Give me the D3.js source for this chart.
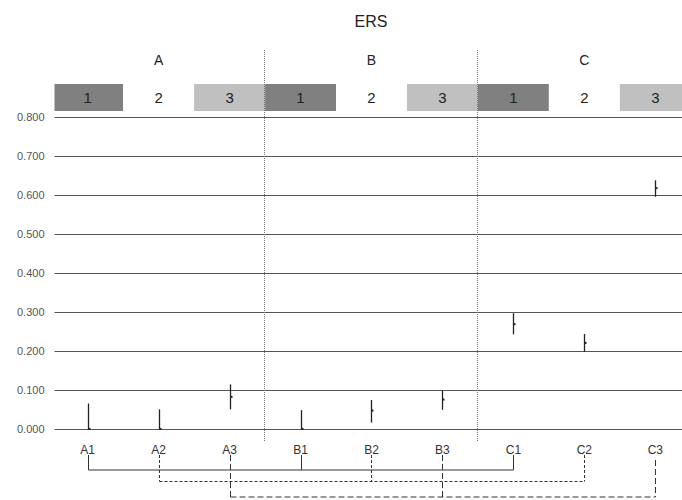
<!DOCTYPE html>
<html>
<head>
<meta charset="utf-8">
<script src="https://cdn.jsdelivr.net/npm/d3@7"></script>
<style>
  html, body { margin: 0; padding: 0; background: #fff; }
  svg { display: block; font-family: "Liberation Sans", Arial, sans-serif; }
</style>
</head>
<body>
<svg id="chart" width="682" height="500"></svg>
<script>
// ERS by group (A, B, C) and level (1, 2, 3): mean with error range
const groups = ["A", "B", "C"];
const levels = ["1", "2", "3"];
const categories = ["A1", "A2", "A3", "B1", "B2", "B3", "C1", "C2", "C3"];
const means = [0.001, 0.001, 0.083, 0.001, 0.048, 0.076, 0.269, 0.221, 0.617];
const lows  = [0.000, 0.000, 0.051, 0.000, 0.017, 0.050, 0.243, 0.198, 0.595];
const highs = [0.066, 0.051, 0.115, 0.049, 0.075, 0.099, 0.297, 0.244, 0.637];
const yTicks = [0, 0.1, 0.2, 0.3, 0.4, 0.5, 0.6, 0.7, 0.8];
const levelFills = ["#808080", "#ffffff", "#c0c0c0"];
// comparison brackets: same level across groups
const brackets = [
  { members: ["A1", "B1", "C1"], dash: null },
  { members: ["A2", "B2", "C2"], dash: "3,2" },
  { members: ["A3", "B3", "C3"], dash: "6,3" }
];

const svg = d3.select("#chart");
const plotLeft = 54.5, plotRight = 682;
const x = d3.scaleBand().domain(categories).range([52.2, 690.8]).padding(0);
const y = d3.scaleLinear().domain([0, 0.8]).range([429.3, 116.6]);
const cx = c => x(c) + x.bandwidth() / 2;

// title
svg.append("text").attr("x", 371).attr("y", 27).attr("text-anchor", "middle")
  .attr("font-size", 16).attr("fill", "#222").text("ERS");

// group labels
groups.forEach((g, i) => {
  svg.append("text")
    .attr("x", cx(categories[i * 3 + 1]))
    .attr("y", 65).attr("text-anchor", "middle")
    .attr("font-size", 14).attr("fill", "#222").text(g);
});

// level header boxes
categories.forEach((c, i) => {
  const li = i % 3;
  const x0 = Math.max(x(c), plotLeft);
  svg.append("rect")
    .attr("x", x0).attr("y", 84)
    .attr("width", x(c) + x.bandwidth() - x0).attr("height", 27)
    .attr("fill", levelFills[li]);
  svg.append("text")
    .attr("x", cx(c)).attr("y", 103)
    .attr("text-anchor", "middle").attr("font-size", 15)
    .attr("fill", "#222").text(levels[li]);
});

// horizontal gridlines and y-axis labels
const yAxis = d3.axisLeft(y).tickValues(yTicks).tickFormat(d3.format(".3f")).tickSize(0).tickPadding(10);
const yg = svg.append("g").attr("transform", `translate(${plotLeft},0)`).call(yAxis);
yg.select(".domain").remove();
yg.selectAll("text").attr("font-size", 11).attr("fill", "#555")
  .attr("font-family", "Liberation Sans, Arial, sans-serif");
svg.append("g").selectAll("line").data(yTicks).join("line")
  .attr("x1", plotLeft).attr("x2", plotRight)
  .attr("y1", d => Math.round(y(d)) + 0.5).attr("y2", d => Math.round(y(d)) + 0.5)
  .attr("stroke", "#555").attr("stroke-width", 1);

// group separators
[3, 6].forEach(i => {
  const sx = Math.round(x(categories[i])) - 0.5;
  svg.append("line")
    .attr("x1", sx).attr("x2", sx).attr("y1", 50).attr("y2", 441)
    .attr("stroke", "#777").attr("stroke-width", 1).attr("stroke-dasharray", "1,1");
});

// error bars with mean markers
categories.forEach((c, i) => {
  const px = Math.round(cx(c)) + 0.5;
  svg.append("line")
    .attr("x1", px).attr("x2", px)
    .attr("y1", y(highs[i])).attr("y2", y(lows[i]))
    .attr("stroke", "#222").attr("stroke-width", 1.3);
  svg.append("rect")
    .attr("x", px).attr("y", y(means[i]) - 1)
    .attr("width", 2).attr("height", 2).attr("fill", "#222");
});

// category labels
const xAxis = d3.axisBottom(x).tickSize(0).tickPadding(8);
const xg = svg.append("g").attr("transform", "translate(0,437)").call(xAxis);
xg.select(".domain").remove();
xg.selectAll("text").attr("font-size", 12).attr("fill", "#333")
  .attr("font-family", "Liberation Sans, Arial, sans-serif");

// brackets linking the same level across groups
const bracketY = [470, 481.5, 497];
brackets.forEach((b, bi) => {
  const yb = bracketY[bi];
  const xs = b.members.map(c => Math.round(cx(c)) + 0.5);
  const g = svg.append("g").attr("fill", "none").attr("stroke", "#333").attr("stroke-width", 1);
  if (b.dash) g.attr("stroke-dasharray", b.dash);
  g.append("line").attr("x1", xs[0]).attr("x2", xs[2]).attr("y1", yb).attr("y2", yb);
  xs.forEach((xv, k) => {
    const top = (bi === 2 && k === 2) ? 460 : 455;
    g.append("line").attr("x1", xv).attr("x2", xv).attr("y1", top).attr("y2", yb);
  });
});
</script>
</body>
</html>
